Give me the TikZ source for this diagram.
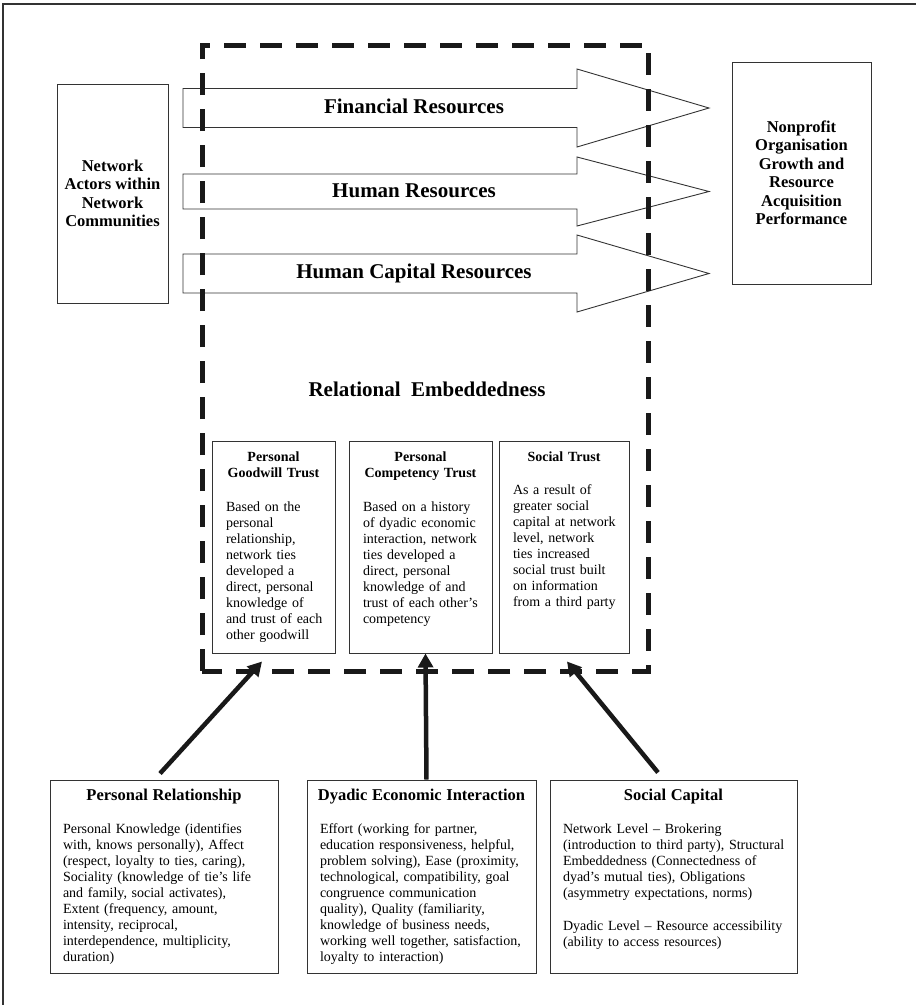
\documentclass[tikz,border=0pt]{standalone}
\usepackage{fontspec}
\setmainfont{Liberation Serif}
\usetikzlibrary{arrows.meta, positioning}
\setlength{\parindent}{0pt}

\begin{document}
\begin{tikzpicture}[x=1pt, y=-1pt]
        \useasboundingbox (0,0) rectangle (916,1005);
        \draw[line width=1.2pt, black!80] (3,1005) -- (3,4) -- (916,4);

        \begin{scope}[every node/.style={draw, line width=1pt, black!80, text=black, align=center, inner sep=0pt,
            font=\fontsize{16.5}{18.5}\selectfont\bfseries}]
            \node[minimum width=111, minimum height=219] (actors) at (112.5,193.5) {Network\\Actors within\\Network\\Communities};
            \node[minimum width=139, minimum height=222] (perf) at (801.5,173) {Nonprofit\\Organisation\\Growth and\\Resource\\Acquisition\\Performance};
        \end{scope}

        \foreach \y/\s/\h in {108/19.5/39, 191.5/17.5/34.5, 273.5/19.5/38.5}
            \draw[line width=0.9pt, black!80] (183,\y-\s) -- (577,\y-\s) -- (577,\y-\h) -- (709,\y)
                -- (577,\y+\h) -- (577,\y+\s) -- (183,\y+\s) -- cycle;

        \begin{scope}[every node/.style={anchor=base, font=\fontsize{21}{24}\selectfont\bfseries}]
            \node (fin) at (414,113) {Financial Resources};
            \node (hum) at (414,197) {Human Resources};
            \node (cap) at (414,278) {Human Capital Resources};
            \node (embed) at (427,396) {Relational\ \ Embeddedness};
        \end{scope}

        \draw[line width=5pt, dash pattern=on 22pt off 14pt, black!90] (202,671) -- (202,45) -- (648,45) -- (648,671) -- cycle;

        \begin{scope}[every node/.style={draw, line width=1pt, black!80}]
            \node[minimum width=123, minimum height=212] (goodwill) at (273.5,547) {};
            \node[minimum width=143, minimum height=212] (competency) at (420.5,547) {};
            \node[minimum width=130, minimum height=212] (socialtrust) at (564,547) {};
            \node[minimum width=228, minimum height=193] (persrel) at (164,876.5) {};
            \node[minimum width=229, minimum height=193] (dyadic) at (421.5,876.5) {};
            \node[minimum width=247, minimum height=193] (soccap) at (673.5,876.5) {};
        \end{scope}

        \begin{scope}[every node/.style={inner sep=0pt, font=\fontsize{14}{16}\selectfont}]
            \node[text width=113, below=11.5pt of goodwill.north] (goodwilltxt)
                {{\centering\bfseries Personal\\Goodwill Trust\par}\vspace{18pt}{\raggedright\leftskip=9pt
                Based on the\\personal\\relationship,\\network ties\\developed a\\direct, personal\\knowledge of\\and trust of each\\other goodwill\par}};
            \node[text width=133, below=11.5pt of competency.north] (competencytxt)
                {{\centering\bfseries Personal\\Competency Trust\par}\vspace{18pt}{\raggedright\leftskip=9pt
                Based on a history\\of dyadic economic\\interaction, network\\ties developed a\\direct, personal\\knowledge of and\\trust of each other's\\competency\par}};
            \node[text width=120, below=11.5pt of socialtrust.north] (socialtrusttxt)
                {{\centering\bfseries Social Trust\par}\vspace{17pt}{\raggedright\leftskip=9pt
                As a result of\\greater social\\capital at network\\level, network\\ties increased\\social trust built\\on information\\from a third party\par}};
        \end{scope}

        \begin{scope}[every node/.style={inner sep=0pt, font=\fontsize{14}{16}\selectfont}]
            \node[text width=218, below=9.5pt of persrel.north] (persreltxt)
                {{\centering\fontsize{16.5}{18.5}\selectfont\bfseries Personal Relationship\par}\vspace{17.3pt}{\raggedright\leftskip=8pt
                Personal Knowledge (identifies\\with, knows personally), Affect\\(respect, loyalty to ties, caring),\\Sociality (knowledge of tie's life\\and family, social activates),\\Extent (frequency, amount,\\intensity, reciprocal,\\interdependence, multiplicity,\\duration)\par}};
            \node[text width=219, below=9.5pt of dyadic.north] (dyadictxt)
                {{\centering\fontsize{16.5}{18.5}\selectfont\bfseries Dyadic Economic Interaction\par}\vspace{17.3pt}{\raggedright\leftskip=8pt
                Effort (working for partner,\\education responsiveness, helpful,\\problem solving), Ease (proximity,\\technological, compatibility, goal\\congruence communication\\quality), Quality (familiarity,\\knowledge of business needs,\\working well together, satisfaction,\\loyalty to interaction)\par}};
            \node[text width=237, below=9.5pt of soccap.north] (soccaptxt)
                {{\centering\fontsize{16.5}{18.5}\selectfont\bfseries Social Capital\par}\vspace{17.3pt}{\raggedright\leftskip=8pt
                Network Level -- Brokering\\(introduction to third party), Structural\\Embeddedness (Connectedness of\\dyad's mutual ties), Obligations\\(asymmetry expectations, norms)\\[17pt]
                Dyadic Level -- Resource accessibility\\(ability to access resources)\par}};
        \end{scope}

        \begin{scope}[
            every edge/.style={draw=black!90, line width=4.5pt, -{Triangle[length=14pt, width=15pt]}}]
            \path ([xshift=-4pt, yshift=6pt]persrel.north) edge ([xshift=-11.5pt, yshift=-8pt]goodwill.south);
            \path ([xshift=5pt]dyadic.north) edge ([xshift=5pt]competency.south);
            \path ([xshift=-15.5pt, yshift=7pt]soccap.north) edge ([xshift=3pt, yshift=-8pt]socialtrust.south);
        \end{scope}
\end{tikzpicture}
\end{document}
